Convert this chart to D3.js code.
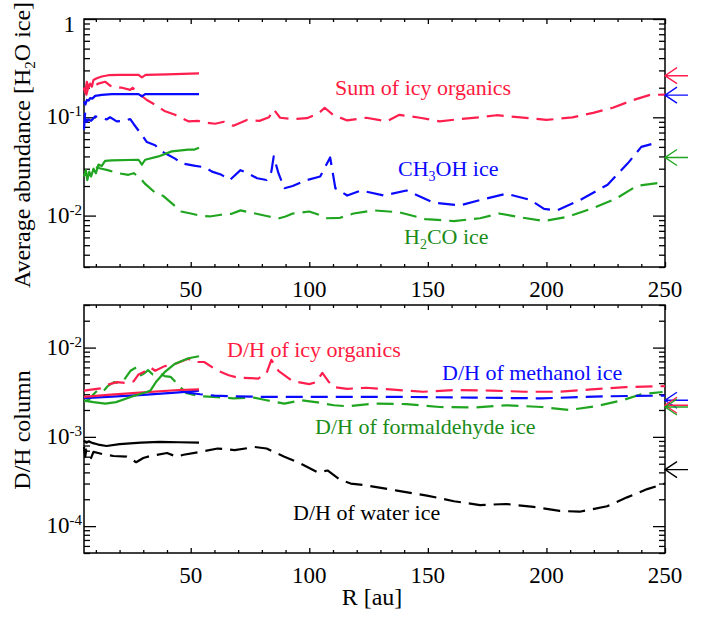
<!DOCTYPE html>
<html>
<head>
<meta charset="utf-8">
<script src="https://cdn.jsdelivr.net/npm/d3@7/dist/d3.min.js"></script>
<style>
  body { margin: 0; background: #fff; }
</style>
</head>
<body>
<svg id="chart" width="707" height="617"></svg>
<script>
// ---- data: [R (au), value] ----
// top panel: abundance relative to H2O ice
const sumSolid = [[5, 0.20], [5.5, 0.18], [6.2, 0.23], [6.9, 0.20], [7.6, 0.22], [8.3, 0.205], [9, 0.24],
  [10.4, 0.25], [12.5, 0.26], [15.3, 0.268], [20, 0.27], [28, 0.27], [29.4, 0.255], [31, 0.27],
  [40, 0.273], [50, 0.278], [53.5, 0.28]];
const sumDashed = [[5, 0.2], [6, 0.17], [7, 0.21], [9, 0.205], [11, 0.22], [13.9, 0.23], [16, 0.21],
  [18.3, 0.2], [21, 0.2], [24.5, 0.19], [25.5, 0.2], [28, 0.175], [31.5, 0.15], [35, 0.134], [39.2, 0.115],
  [43.4, 0.106], [49, 0.091], [53, 0.092], [57, 0.088], [60.3, 0.086], [64, 0.09], [68, 0.082],
  [73.7, 0.094], [79, 0.092], [83, 0.1], [85, 0.12], [87.7, 0.099], [93, 0.096], [99, 0.098],
  [104, 0.11], [106.5, 0.125], [110, 0.106], [116, 0.093], [124, 0.099], [132.7, 0.091], [138, 0.106],
  [146.7, 0.099], [155, 0.091], [163.6, 0.096], [172, 0.1], [179, 0.105], [189, 0.1], [200, 0.094],
  [211, 0.1], [219.7, 0.111], [228, 0.125], [236.6, 0.15], [243.7, 0.169], [250, 0.17]];
const ch3ohSolid = [[5, 0.145], [5.6, 0.135], [6.2, 0.15], [7, 0.148], [7.6, 0.157], [8.5, 0.155],
  [9.7, 0.165], [12.5, 0.169], [16.7, 0.172], [28, 0.172], [29.4, 0.163], [30.8, 0.172], [53.5, 0.172]];
const ch3ohDashed = [[5, 0.075], [5.5, 0.114], [6.2, 0.09], [6.9, 0.095], [8, 0.092], [9.7, 0.102],
  [12.5, 0.1], [14.5, 0.095], [16, 0.1], [18.8, 0.091], [22, 0.092], [24.5, 0.096], [26, 0.085],
  [29.4, 0.066], [31.5, 0.056], [35, 0.052], [37.8, 0.045], [40, 0.042], [43.4, 0.038], [46.2, 0.034],
  [52, 0.032], [56, 0.031], [59, 0.028], [63, 0.026], [66.5, 0.023], [71, 0.029], [74, 0.027],
  [78, 0.024], [82, 0.023], [84, 0.028], [85, 0.04], [87, 0.027], [89.5, 0.019], [93, 0.02], [99, 0.023],
  [104.6, 0.025], [108.8, 0.039], [111, 0.019], [116, 0.016], [121.7, 0.018], [131.5, 0.016],
  [141, 0.018], [152.5, 0.0135], [163.6, 0.0127], [173.5, 0.0147], [183, 0.0167], [193, 0.0145],
  [199, 0.0117], [204.6, 0.0113], [214.6, 0.0146], [225.8, 0.0206], [234.3, 0.034], [240, 0.05],
  [245, 0.054]];
const h2coSolid = [[5, 0.025], [5.8, 0.029], [6.4, 0.023], [7.2, 0.028], [8, 0.025], [9, 0.03],
  [10, 0.027], [11.1, 0.033], [12.5, 0.032], [13.9, 0.036], [16.7, 0.0365], [28, 0.037], [29.4, 0.033],
  [30.8, 0.037], [36.4, 0.04], [42, 0.045], [49, 0.047], [51.6, 0.047], [53.5, 0.049]];
const h2coDashed = [[10, 0.031], [12.4, 0.03], [15, 0.029], [19.5, 0.027], [23.7, 0.026], [26, 0.027],
  [28.7, 0.024], [30.8, 0.021], [35, 0.0171], [38.5, 0.0158], [43.4, 0.0125], [46, 0.011], [50, 0.0105],
  [54, 0.01], [58, 0.0098], [62.8, 0.0102], [67, 0.0104], [71, 0.0113], [75, 0.0108], [79.6, 0.0102],
  [83, 0.0098], [86.6, 0.0093], [90, 0.0098], [93, 0.0105], [100, 0.011], [104, 0.0102], [107, 0.0094],
  [113, 0.0095], [118.7, 0.0105], [127, 0.0113], [138, 0.0108], [149, 0.0092], [161, 0.0088],
  [172, 0.0094], [180, 0.0105], [189, 0.0096], [199, 0.0088], [208.7, 0.0097], [220, 0.012],
  [229.6, 0.015], [238, 0.02], [250, 0.022]];

// bottom panel: D/H column ratio
const dhOrgSolid = [[5, 2.8e-3], [15, 2.95e-3], [30, 3.15e-3], [45, 3.35e-3], [53.5, 3.4e-3]];
const dhMeSolid = [[5, 2.72e-3], [15, 2.8e-3], [30, 2.95e-3], [45, 3.15e-3], [53.5, 3.3e-3]];
const dhFormSolid = [[5, 2.55e-3], [9, 2.45e-3], [14, 2.36e-3], [18.5, 2.45e-3], [25.6, 2.85e-3],
  [31.5, 3.18e-3], [33, 3.3e-3], [35.6, 4.2e-3], [39, 5.3e-3], [43.4, 6.6e-3], [49, 7.6e-3], [53.5, 8.0e-3]];
const dhWaterSolid = [[5, 9.1e-4], [6, 8.6e-4], [7, 8.9e-4], [8.8, 8.5e-4], [11, 8.2e-4], [14.5, 7.9e-4],
  [20, 8.3e-4], [29, 8.6e-4], [37, 8.8e-4], [45, 8.7e-4], [53.5, 8.6e-4]];
const dhOrgDashed = [[5, 3.3e-3], [8.8, 3.4e-3], [12, 3.5e-3], [15.8, 3.9e-3], [19, 4.1e-3], [23, 4.0e-3],
  [26, 4.2e-3], [28, 5.0e-3], [30, 5.3e-3], [33, 6.0e-3], [35, 5.5e-3], [39, 6.2e-3], [42, 6.3e-3],
  [46, 7.0e-3], [49, 7.5e-3], [51.5, 6.9e-3], [55.7, 6.9e-3], [61.4, 5.5e-3], [66, 4.9e-3], [70, 4.6e-3],
  [78.5, 4.5e-3], [82, 5.2e-3], [84, 7.3e-3], [87, 5.5e-3], [93, 4.2e-3], [100, 3.9e-3], [103, 4.1e-3],
  [105.5, 5.2e-3], [108, 4.2e-3], [110.4, 3.6e-3], [116, 3.45e-3], [124, 3.55e-3], [134, 3.4e-3],
  [148, 3.2e-3], [162, 3.35e-3], [176.7, 3.3e-3], [190.7, 3.2e-3], [205, 3.2e-3], [219, 3.4e-3],
  [233.4, 3.6e-3], [250, 3.7e-3]];
const dhMeDashed = [[48, 3.15e-3], [54, 3.0e-3], [60, 2.9e-3], [68, 2.85e-3], [82, 2.8e-3], [110, 2.8e-3],
  [141, 2.8e-3], [169, 2.75e-3], [198, 2.7e-3], [226, 2.85e-3], [250, 2.9e-3]];
const dhFormDashed = [[5, 2.5e-3], [7, 2.6e-3], [8.5, 2.9e-3], [10.6, 3.3e-3], [13, 3.2e-3], [15, 3.7e-3],
  [17.6, 4.1e-3], [20, 4.0e-3], [22, 4.4e-3], [24.6, 5.5e-3], [27, 6.0e-3], [28, 5.6e-3], [29, 4.9e-3],
  [31, 5.3e-3], [32, 5.6e-3], [34, 5.0e-3], [37, 5.1e-3], [39, 4.8e-3], [41.5, 4.7e-3], [48, 3.1e-3],
  [54, 2.85e-3], [59.5, 2.8e-3], [64, 2.75e-3], [68, 2.7e-3], [76.6, 2.75e-3], [82, 2.57e-3],
  [89.5, 2.36e-3], [96.5, 2.57e-3], [103.5, 2.43e-3], [110.4, 2.26e-3], [116, 2.2e-3], [127, 2.36e-3],
  [141, 2.33e-3], [155, 2.16e-3], [169.4, 2.13e-3], [183, 2.26e-3], [198, 2.16e-3], [209.6, 2.0e-3],
  [220.7, 2.2e-3], [232, 2.57e-3], [240, 3.0e-3], [249, 3.18e-3]];
const dhWaterDashed = [[5, 7.7e-4], [5.5, 6.0e-4], [6, 7.2e-4], [7, 6.5e-4], [8, 5.8e-4], [9, 6.8e-4],
  [11, 6.6e-4], [14, 6.3e-4], [17.5, 6.1e-4], [23, 6.0e-4], [27, 5.2e-4], [30, 5.8e-4], [33, 6.1e-4],
  [40, 6.6e-4], [44, 6.0e-4], [47, 6.3e-4], [54, 6.8e-4], [61.4, 7.4e-4], [68.5, 7.1e-4], [77, 7.7e-4],
  [82, 7.4e-4], [89.5, 6.0e-4], [96.5, 5.0e-4], [103.5, 4.0e-4], [107.7, 4.2e-4], [113, 3.3e-4],
  [117.5, 3.0e-4], [124.4, 2.85e-4], [137, 2.5e-4], [149.6, 2.2e-4], [161, 1.9e-4], [172, 1.72e-4],
  [183, 1.77e-4], [194.6, 1.64e-4], [205.6, 1.48e-4], [214, 1.45e-4], [225.6, 1.67e-4], [234, 2.1e-4],
  [242.5, 2.6e-4], [250, 3.0e-4]];

// arrow markers on the right edge (observed values)
const topArrows = [0.265, 0.168, 0.039];
const bottomArrows = [2.57e-3, 2.26e-3, 2.16e-3, 4.3e-4];

// tick values
const xMajor = [50, 100, 150, 200, 250];
const xMinor = [10, 20, 30, 40, 60, 70, 80, 90, 110, 120, 130, 140, 160, 170, 180, 190, 210, 220, 230, 240];
const topDecades = [1e-2, 1e-1, 1];
const bottomDecades = [1e-4, 1e-3, 1e-2];

const col = { red: '#ff1f4f', blue: '#0a0aff', green: '#20a520', black: '#000' };
const txt = { red: '#ff1a40', blue: '#0a0aff', green: '#1a8c1a', black: '#000' };
const FONT = "'Liberation Serif', 'Times New Roman', serif";

const svg = d3.select('#chart');
const x = d3.scaleLinear().domain([5, 250]).range([84, 665]);
const yTop = d3.scaleLog().domain([0.003, 1]).range([267, 19]);
const yBot = d3.scaleLog().domain([5e-5, 0.03]).range([553, 305]);

/**
 * minor log ticks (2..9 times each decade) inside the domain
 */
const minorLog = (y) => {
  const [lo, hi] = y.domain();
  const out = [];
  for (let e = Math.floor(Math.log10(lo)); e <= Math.ceil(Math.log10(hi)); e++) {
    for (let m = 2; m <= 9; m++) {
      const v = m * Math.pow(10, e);
      if (v >= lo * 0.999 && v <= hi * 1.001) out.push(v);
    }
  }
  return out;
};

const text = () => svg.append('text').style('font-family', FONT).attr('fill', '#000');

const drawPanel = (y, decades, labelY) => {
  const [x0, x1] = x.range();
  const [yb, yt] = y.range();
  const ticks = [
    [d3.axisBottom(x).tickValues(xMajor).tickSize(-5), `translate(0,${yb})`],
    [d3.axisBottom(x).tickValues(xMinor).tickSize(-3), `translate(0,${yb})`],
    [d3.axisTop(x).tickValues(xMajor).tickSize(-5), `translate(0,${yt})`],
    [d3.axisTop(x).tickValues(xMinor).tickSize(-3), `translate(0,${yt})`],
    [d3.axisLeft(y).tickValues(decades).tickSize(-12), `translate(${x0},0)`],
    [d3.axisLeft(y).tickValues(minorLog(y)).tickSize(-6), `translate(${x0},0)`],
    [d3.axisRight(y).tickValues(decades).tickSize(-12), `translate(${x1},0)`],
    [d3.axisRight(y).tickValues(minorLog(y)).tickSize(-6), `translate(${x1},0)`],
  ];
  ticks.forEach(([ax, tr]) => {
    const g = svg.append('g').attr('transform', tr)
      .call(ax.tickFormat('').tickSizeOuter(0));
    g.select('.domain').remove();
    g.selectAll('.tick line').attr('stroke', '#000').attr('stroke-width', 1.3);
    g.selectAll('.tick text').remove();
  });
  svg.append('rect').attr('x', x0).attr('y', yt).attr('width', x1 - x0).attr('height', yb - yt)
    .attr('fill', 'none').attr('stroke', '#000').attr('stroke-width', 1.5);

  // x labels
  xMajor.forEach((d) => {
    text().attr('x', x(d)).attr('y', labelY).attr('text-anchor', 'middle')
      .attr('font-size', 23).text(d);
  });

  // y labels: 10 with superscript exponent
  decades.forEach((d) => {
    const e = Math.round(Math.log10(d));
    const t = text().attr('text-anchor', 'end').attr('font-size', 23).attr('y', y(d) + 7);
    if (e === 0) {
      t.attr('x', 75).attr('y', y(d) + 13).text('1');
    } else {
      t.attr('x', 82);
      t.append('tspan').text('10');
      t.append('tspan').attr('font-size', 15).attr('dy', -8).text(String(e));
    }
  });
};

const line = y => d3.line().x(d => x(d[0])).y(d => y(d[1]));

const drawSeries = (y, data, color, dashed) => {
  svg.append('path').datum(data)
    .attr('d', line(y))
    .attr('fill', 'none')
    .attr('stroke', color)
    .attr('stroke-width', 2.2)
    .attr('stroke-linejoin', 'round')
    .attr('stroke-dasharray', dashed ? '17,8' : null);
};

const drawArrows = (y, values, colors) => {
  const x1 = x.range()[1];
  svg.append('g').selectAll('path').data(values).join('path')
    .attr('d', (d) => {
      const yy = y(d);
      return `M${x1 + 23},${yy}H${x1}M${x1 + 12},${yy - 8}L${x1},${yy}L${x1 + 12},${yy + 8}`;
    })
    .attr('fill', 'none')
    .attr('stroke', (d, i) => colors[i])
    .attr('stroke-width', 1.4);
};

// parts: list of [string, isSubscript]
const label = (xx, yy, color, parts, size = 22) => {
  const t = text().attr('x', xx).attr('y', yy).attr('font-size', size).attr('fill', color);
  let shifted = false;
  parts.forEach(([s, sub]) => {
    if (sub) {
      t.append('tspan').attr('font-size', Math.round(size * 0.62)).attr('dy', 5).text(s);
      shifted = true;
    } else {
      t.append('tspan').attr('dy', shifted ? -5 : 0).text(s);
      shifted = false;
    }
  });
  return t;
};

// ---- top panel ----
drawPanel(yTop, topDecades, 297);
drawSeries(yTop, h2coDashed, col.green, true);
drawSeries(yTop, ch3ohDashed, col.blue, true);
drawSeries(yTop, sumDashed, col.red, true);
drawSeries(yTop, h2coSolid, col.green, false);
drawSeries(yTop, ch3ohSolid, col.blue, false);
drawSeries(yTop, sumSolid, col.red, false);
drawArrows(yTop, topArrows, [col.red, col.blue, col.green]);

label(335, 95, txt.red, [['Sum of icy organics']]);
label(398, 176, txt.blue, [['CH'], ['3', true], ['OH ice']]);
label(404, 244, txt.green, [['H'], ['2', true], ['CO ice']]);

// ---- bottom panel ----
drawPanel(yBot, bottomDecades, 583);
drawSeries(yBot, dhWaterDashed, col.black, true);
drawSeries(yBot, dhFormDashed, col.green, true);
drawSeries(yBot, dhMeDashed, col.blue, true);
drawSeries(yBot, dhOrgDashed, col.red, true);
drawSeries(yBot, dhWaterSolid, col.black, false);
drawSeries(yBot, dhMeSolid, col.blue, false);
drawSeries(yBot, dhOrgSolid, col.red, false);
drawSeries(yBot, dhFormSolid, col.green, false);
drawArrows(yBot, bottomArrows, [col.blue, col.red, col.green, col.black]);

label(227, 357, txt.red, [['D/H of icy organics']]);
label(442, 380, txt.blue, [['D/H of methanol ice']]);
label(315, 434, txt.green, [['D/H of formaldehyde ice']]);
label(293, 520, txt.black, [['D/H of water ice']]);

// axis titles
label(0, 0, '#000', [['Average abundance [H'], ['2', true], ['O ice]']], 24)
  .attr('x', null).attr('y', null)
  .attr('transform', 'translate(30,145) rotate(-90)').attr('text-anchor', 'middle');

text().attr('transform', 'translate(30,430) rotate(-90)')
  .attr('text-anchor', 'middle').attr('font-size', 24).text('D/H column');

text().attr('x', 372).attr('y', 605).attr('text-anchor', 'middle')
  .attr('font-size', 24).text('R [au]');
</script>
</body>
</html>
